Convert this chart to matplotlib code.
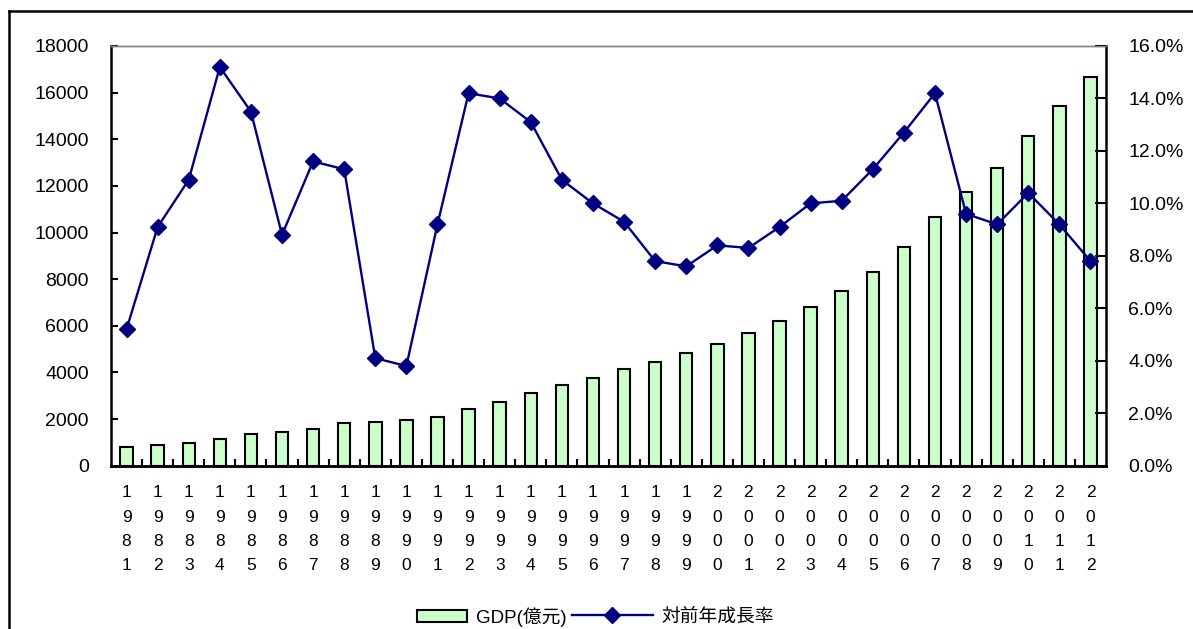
import matplotlib.pyplot as plt
from matplotlib.lines import Line2D
from matplotlib.patches import Patch
from matplotlib.ticker import FixedLocator, FuncFormatter

plt.rcParams['font.family'] = ['Liberation Sans', 'Noto Sans CJK JP', 'DejaVu Sans']

## years, GDP (億元) and growth rate on previous year (%)
years = list(range(1981, 2013))
gdp = [815, 888, 986, 1132, 1360, 1445, 1587, 1818, 1887, 1960,
       2102, 2419, 2719, 3105, 3474, 3774, 4160, 4460, 4846, 5219,
       5678, 6206, 6806, 7493, 8320, 9380, 10679, 11725, 12781, 14140,
       15427, 16657]
growth = [5.2, 9.1, 10.9, 15.2, 13.5, 8.8, 11.6, 11.3, 4.1, 3.8,
          9.2, 14.2, 14.0, 13.1, 10.9, 10.0, 9.3, 7.8, 7.6, 8.4,
          8.3, 9.1, 10.0, 10.1, 11.3, 12.7, 14.2, 9.6, 9.2, 10.4,
          9.2, 7.8]
xlabels = ['\n'.join(str(y)) for y in years]
names = ['GDP(億元)', '対前年成長率']

fig = plt.figure(figsize=(11.93, 6.29), dpi=100)
ax = fig.add_axes([111/1193, 1 - 465.7/629, (1106 - 111)/1193, (465.7 - 46)/629])
ax2 = ax.twinx()

x = list(range(len(years)))
ax.bar(x, gdp, width=0.4, color='#CCFFCC', edgecolor='black', linewidth=1.5, zorder=2)
ax2.plot(x, growth, color='#000080', linewidth=1.7, marker='D', markersize=8.5, zorder=3)

ax.set_xlim(-0.5, len(years) - 0.5)
ax.set_ylim(0, 18000)
ax.set_yticks(range(0, 18001, 2000))
ax2.set_ylim(0, 16)
ax2.set_yticks(range(0, 17, 2))
ax2.yaxis.set_major_formatter(FuncFormatter(lambda v, p: '%.1f%%' % v))

## x axis: stacked digits, small ticks between categories
ax.set_xticks(x)
ax.set_xticklabels(xlabels, fontsize=12.5, linespacing=1.78, va='top')
ax.tick_params(axis='x', which='major', length=0, pad=14)
ax.xaxis.set_minor_locator(FixedLocator([i + 0.5 for i in range(len(years) - 1)]))
ax.tick_params(axis='x', which='minor', direction='in', length=5, width=1.5)

ax.tick_params(axis='y', direction='in', length=5, width=1.5, labelsize=14, pad=16)
ax2.tick_params(axis='y', direction='in', length=8, width=1.5, labelsize=14, pad=16)

for a in (ax, ax2):
    a.spines['top'].set_color('#808080')
    a.spines['top'].set_linewidth(1)
    a.spines['left'].set_linewidth(1.8)
    a.spines['bottom'].set_linewidth(1.8)
    a.spines['right'].set_linewidth(1.8)
ax.spines['right'].set_visible(False)
ax2.spines['left'].set_visible(False)

## legend under the chart, one entry per box so the handles can differ in length
leg_y = 1 - 617/629
bar_handle = Patch(facecolor='#CCFFCC', edgecolor='black', linewidth=1.5)
line_handle = Line2D([], [], color='#000080', linewidth=1.7, marker='D', markersize=8)
fig.legend([bar_handle], [names[0]], loc='center left', bbox_to_anchor=(417/1193, leg_y),
           frameon=False, fontsize=13.5, handlelength=2.68, handleheight=0.64,
           handletextpad=0.48, borderpad=0, borderaxespad=0)
fig.legend([line_handle], [names[1]], loc='center left', bbox_to_anchor=(572/1193, leg_y),
           frameon=False, fontsize=13.5, handlelength=4.3, handletextpad=0.45,
           borderpad=0, borderaxespad=0)

## outer frame
fig.add_artist(Line2D([9/1193, 9/1193], [-0.01, 1 - 11/629], transform=fig.transFigure,
                      color='black', linewidth=1.8))
fig.add_artist(Line2D([9/1193, 1.01], [1 - 11/629, 1 - 11/629], transform=fig.transFigure,
                      color='black', linewidth=1.8))

fig.savefig('out.png', dpi=100)
